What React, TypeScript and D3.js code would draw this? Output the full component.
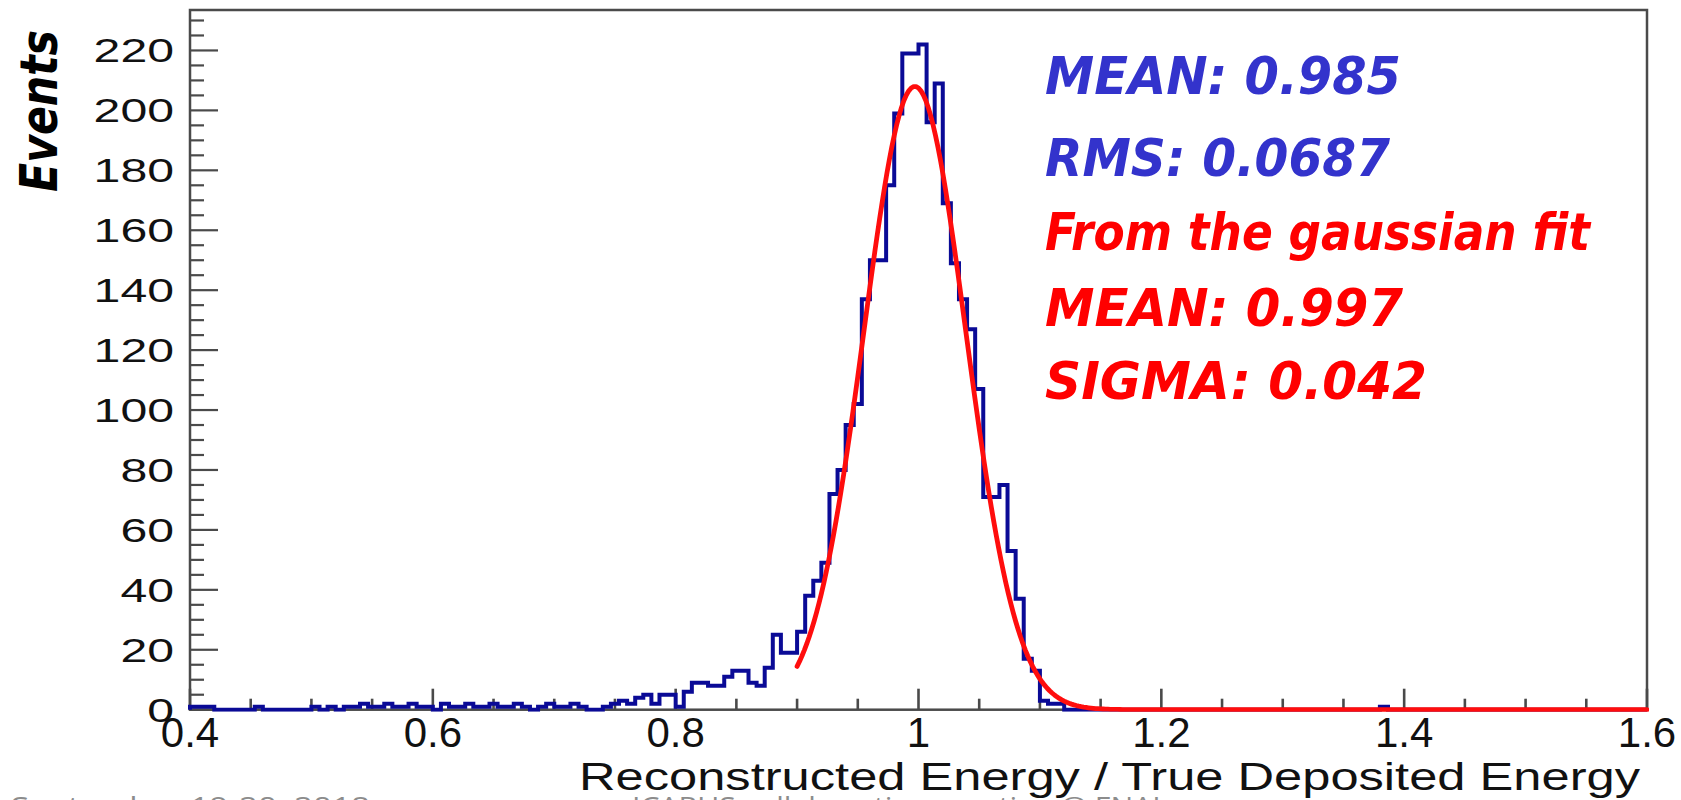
import React from "react";
import * as d3 from "d3";

const W = 1681;
const H = 800;

// Histogram binning (150 bins per unit, 0.4 .. 1.6)
const X_MIN = 0.4;
const X_MAX = 1.6;
const BIN_WIDTH = 1 / 150;
const Y_MAX = 233.5;

// Bin contents, left to right
const counts: number[] = [
  1, 1, 1, 0, 0, 0, 0, 0, 1, 0,
  0, 0, 0, 0, 0, 1, 0, 1, 0, 1,
  1, 2, 1, 1, 2, 1, 1, 2, 1, 1,
  0, 2, 1, 1, 2, 1, 1, 2, 1, 1,
  2, 1, 0, 1, 2, 1, 1, 2, 1, 0,
  0, 1, 2, 3, 2, 4, 5, 2, 5, 5,
  1, 6, 9, 9, 8, 8, 11, 13, 13, 9,
  8, 14, 25, 19, 19, 26, 38, 43, 49, 72,
  80, 95, 102, 137, 150, 150, 175, 199, 219, 219,
  222, 196, 209, 169, 149, 137, 127, 107, 71, 71,
  75, 53, 37, 17, 13, 3, 2, 2, 0, 0,
  0, 0, 0, 0, 0, 0, 0, 0, 0, 0,
  0, 0, 0, 0, 0, 0, 0, 0, 0, 0,
  0, 0, 0, 0, 0, 0, 0, 0, 0, 0,
  0, 0, 0, 0, 0, 0, 0, 1, 0, 0,
  0, 0, 0, 0, 0, 0, 0, 0, 0, 0,
  0, 0, 0, 0, 0, 0, 0, 0, 0, 0,
  0, 0, 0, 0, 0, 0, 0, 0, 0, 0,
];

// Gaussian fit parameters (as printed on the chart)
const FIT_MEAN = 0.997;
const FIT_SIGMA = 0.042;
const FIT_AMP = 208;
const FIT_START = 0.9;

const xTickValues = [0.4, 0.6, 0.8, 1.0, 1.2, 1.4, 1.6];
const xTickLabels = ["0.4", "0.6", "0.8", "1", "1.2", "1.4", "1.6"];
const yTickValues = [0, 20, 40, 60, 80, 100, 120, 140, 160, 180, 200, 220];
const yTickLabels = ["0", "20", "40", "60", "80", "100", "120", "140", "160", "180", "200", "220"];

const statsTexts = ["MEAN: 0.985", "RMS: 0.0687", "From the gaussian fit", "MEAN: 0.997", "SIGMA: 0.042"];
const statsColors = ["#3333cc", "#3333cc", "#ff0000", "#ff0000", "#ff0000"];
const statsWidths = [356, 345, 545, 358, 382];
const statsBaselines = [94, 176, 250, 326, 399];

const xTitle = "Reconstructed Energy / True Deposited Energy";
const yTitle = "Events";
const footerLeft = "September 19-20, 2018";
const footerMid = "ICARUS collaboration meeting @ FNAL";

export default function App() {
  const left = 190;
  const right = 1647;
  const top = 10;
  const bottom = 709.7;

  const x = d3.scaleLinear().domain([X_MIN, X_MAX]).range([left, right]);
  const y = d3.scaleLinear().domain([0, Y_MAX]).range([bottom, top]);

  const histPts: [number, number][] = [[X_MIN, 0]];
  counts.forEach((c, i) => histPts.push([X_MIN + i * BIN_WIDTH, c]));
  histPts.push([X_MAX, counts[counts.length - 1]]);
  histPts.push([X_MAX, 0]);
  const histLine = d3
    .line<[number, number]>()
    .x((d) => x(d[0]))
    .y((d) => y(d[1]))
    .curve(d3.curveStepAfter);

  const fitXs = d3.range(FIT_START, X_MAX + 1e-9, 0.002);
  const fitLine = d3
    .line<number>()
    .x((d) => x(d))
    .y((d) => y(FIT_AMP * Math.exp(-0.5 * ((d - FIT_MEAN) / FIT_SIGMA) ** 2)));

  const xMinor = d3.range(X_MIN, X_MAX + 1e-9, 0.05);
  const yMinor = d3.range(0, Y_MAX, 5);

  const axisColor = "#4a4a4a";

  return (
    <svg
      width={W}
      height={H}
      viewBox={`0 0 ${W} ${H}`}
      style={{ position: "absolute", left: 0, top: 0, background: "#fff" }}
    >
      <rect x={0} y={0} width={W} height={H} fill="#fff" />
      <defs>
        <clipPath id="frameClip">
          <rect x={left - 2} y={top} width={right - left + 4} height={bottom - top + 2} />
        </clipPath>
      </defs>

      {/* frame */}
      <rect x={left} y={top} width={right - left} height={bottom - top} fill="none" stroke={axisColor} strokeWidth={2.5} />

      {/* y ticks */}
      {yMinor.map((v) => {
        const major = Math.abs(v % 20) < 1e-6;
        return (
          <line key={"ym" + v} x1={left} x2={left + (major ? 28 : 14)} y1={y(v)} y2={y(v)} stroke={axisColor} strokeWidth={2.2} />
        );
      })}
      {/* x ticks */}
      {xMinor.map((v, i) => {
        const major = i % 4 === 0;
        return (
          <line key={"xm" + i} x1={x(v)} x2={x(v)} y1={bottom} y2={bottom - (major ? 21 : 11)} stroke={axisColor} strokeWidth={2.6} />
        );
      })}

      {/* histogram */}
      <g clipPath="url(#frameClip)">
        <path d={histLine(histPts) || ""} fill="none" stroke="#0a0a96" strokeWidth={4} strokeLinejoin="miter" />
        <path d={fitLine(fitXs) || ""} fill="none" stroke="#ff0d0d" strokeWidth={4.8} strokeLinejoin="round" strokeLinecap="round" />
      </g>

      {/* y labels */}
      {yTickValues.map((v, i) => (
        <text
          key={"yl" + v}
          x={174}
          y={y(v) + 12}
          textAnchor="end"
          fontFamily="'Liberation Sans', Arial, sans-serif"
          fontSize={34}
          textLength={yTickLabels[i].length * 26.8}
          lengthAdjust="spacingAndGlyphs"
          fill="#111"
        >
          {yTickLabels[i]}
        </text>
      ))}

      {/* x labels */}
      {xTickValues.map((v, i) => (
        <text
          key={"xl" + i}
          x={x(v)}
          y={747}
          textAnchor="middle"
          fontFamily="'Liberation Sans', Arial, sans-serif"
          fontSize={42}
          fill="#111"
        >
          {xTickLabels[i]}
        </text>
      ))}

      {/* x title */}
      <text
        x={1640}
        y={790}
        textAnchor="end"
        fontFamily="'Liberation Sans', Arial, sans-serif"
        fontSize={39}
        textLength={1061}
        lengthAdjust="spacingAndGlyphs"
        fill="#111"
      >
        {xTitle}
      </text>

      {/* y title */}
      <text
        transform="translate(57,111) rotate(-90)"
        textAnchor="middle"
        fontFamily="'DejaVu Sans', sans-serif"
        fontWeight="bold"
        fontStyle="italic"
        fontSize={52}
        textLength={162}
        lengthAdjust="spacingAndGlyphs"
        fill="#000"
      >
        {yTitle}
      </text>

      {/* stats text */}
      {statsTexts.map((t, i) => (
        <text
          key={"st" + i}
          x={1045}
          y={statsBaselines[i]}
          fontFamily="'DejaVu Sans', sans-serif"
          fontWeight="bold"
          fontStyle="italic"
          fontSize={52}
          textLength={statsWidths[i]}
          lengthAdjust="spacingAndGlyphs"
          fill={statsColors[i]}
        >
          {t}
        </text>
      ))}

      {/* footer (cut off at bottom, as in the reference) */}
      <text x={11} y={815} fontFamily="'Open Sans', sans-serif" fontSize={26} fill="#8c8c8c" textLength={359} lengthAdjust="spacingAndGlyphs">
        {footerLeft}
      </text>
      <text x={632} y={815} fontFamily="'Open Sans', sans-serif" fontSize={26} fill="#8c8c8c" textLength={536} lengthAdjust="spacingAndGlyphs">
        {footerMid}
      </text>
    </svg>
  );
}
